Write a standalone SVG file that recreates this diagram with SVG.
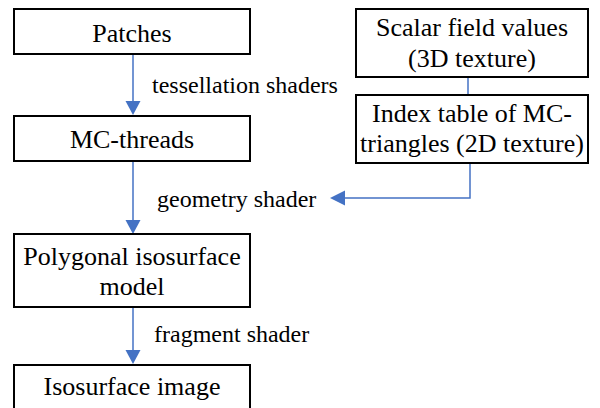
<svg xmlns="http://www.w3.org/2000/svg" width="600" height="408" viewBox="0 0 600 408">
  <style>
    .box { fill: #ffffff; stroke: #000000; stroke-width: 2; }
    .link { fill: none; stroke: #4472C4; stroke-width: 1.5; }
    .head { fill: #4472C4; stroke: none; }
  </style>
  <rect width="600" height="408" fill="#fff"/>

  <!-- flow connectors with filled arrowheads -->
  <g id="connectors">
    <line class="link" x1="133" y1="54" x2="133" y2="104"/>
    <polygon class="head" points="125.5,101 140.5,101 133,115"/>
    <line class="link" x1="133" y1="161" x2="133" y2="222"/>
    <polygon class="head" points="125.5,220 140.5,220 133,234"/>
    <line class="link" x1="133" y1="307" x2="133" y2="352"/>
    <polygon class="head" points="125.5,350 140.5,350 133,364"/>
    <line class="link" x1="468" y1="77" x2="468" y2="95"/>
    <polyline class="link" points="470,163 470,198 342,198"/>
    <polygon class="head" points="330,198 345,190.5 345,205.5"/>
  </g>

  <g id="patches"><rect class="box" x="14" y="9" width="236" height="45"/><text x="132" y="42" font-family="Times New Roman" font-size="26" text-anchor="middle">Patches</text></g>
  <g id="mc-threads"><rect class="box" x="14" y="116" width="236" height="45"/><text x="132" y="148" font-family="Times New Roman" font-size="26" text-anchor="middle">MC-threads</text></g>
  <g id="polygonal-model"><rect class="box" x="14" y="234" width="236" height="73"/><text x="132" y="265" font-family="Times New Roman" font-size="26" text-anchor="middle">Polygonal isosurface</text><text x="132" y="295" font-family="Times New Roman" font-size="26" text-anchor="middle">model</text></g>
  <g id="isosurface-image"><rect class="box" x="14" y="365" width="236" height="50"/><text x="132" y="395" font-family="Times New Roman" font-size="26" text-anchor="middle">Isosurface image</text></g>
  <g id="scalar-field"><rect class="box" x="356" y="9" width="232" height="68"/><text x="472" y="36" font-family="Times New Roman" font-size="26" text-anchor="middle">Scalar field values</text><text x="472" y="67" font-family="Times New Roman" font-size="26" text-anchor="middle">(3D texture)</text></g>
  <g id="index-table"><rect class="box" x="356" y="95" width="232" height="68"/><text x="472" y="122" font-family="Times New Roman" font-size="26" text-anchor="middle">Index table of MC-</text><text x="472" y="152" font-family="Times New Roman" font-size="26" text-anchor="middle">triangles (2D texture)</text></g>

  <g id="labels">
    <text x="152" y="93" font-family="Times New Roman" font-size="24">tessellation shaders</text>
    <text x="157" y="207" font-family="Times New Roman" font-size="24">geometry shader</text>
    <text x="154" y="342" font-family="Times New Roman" font-size="24">fragment shader</text>
  </g>
</svg>
